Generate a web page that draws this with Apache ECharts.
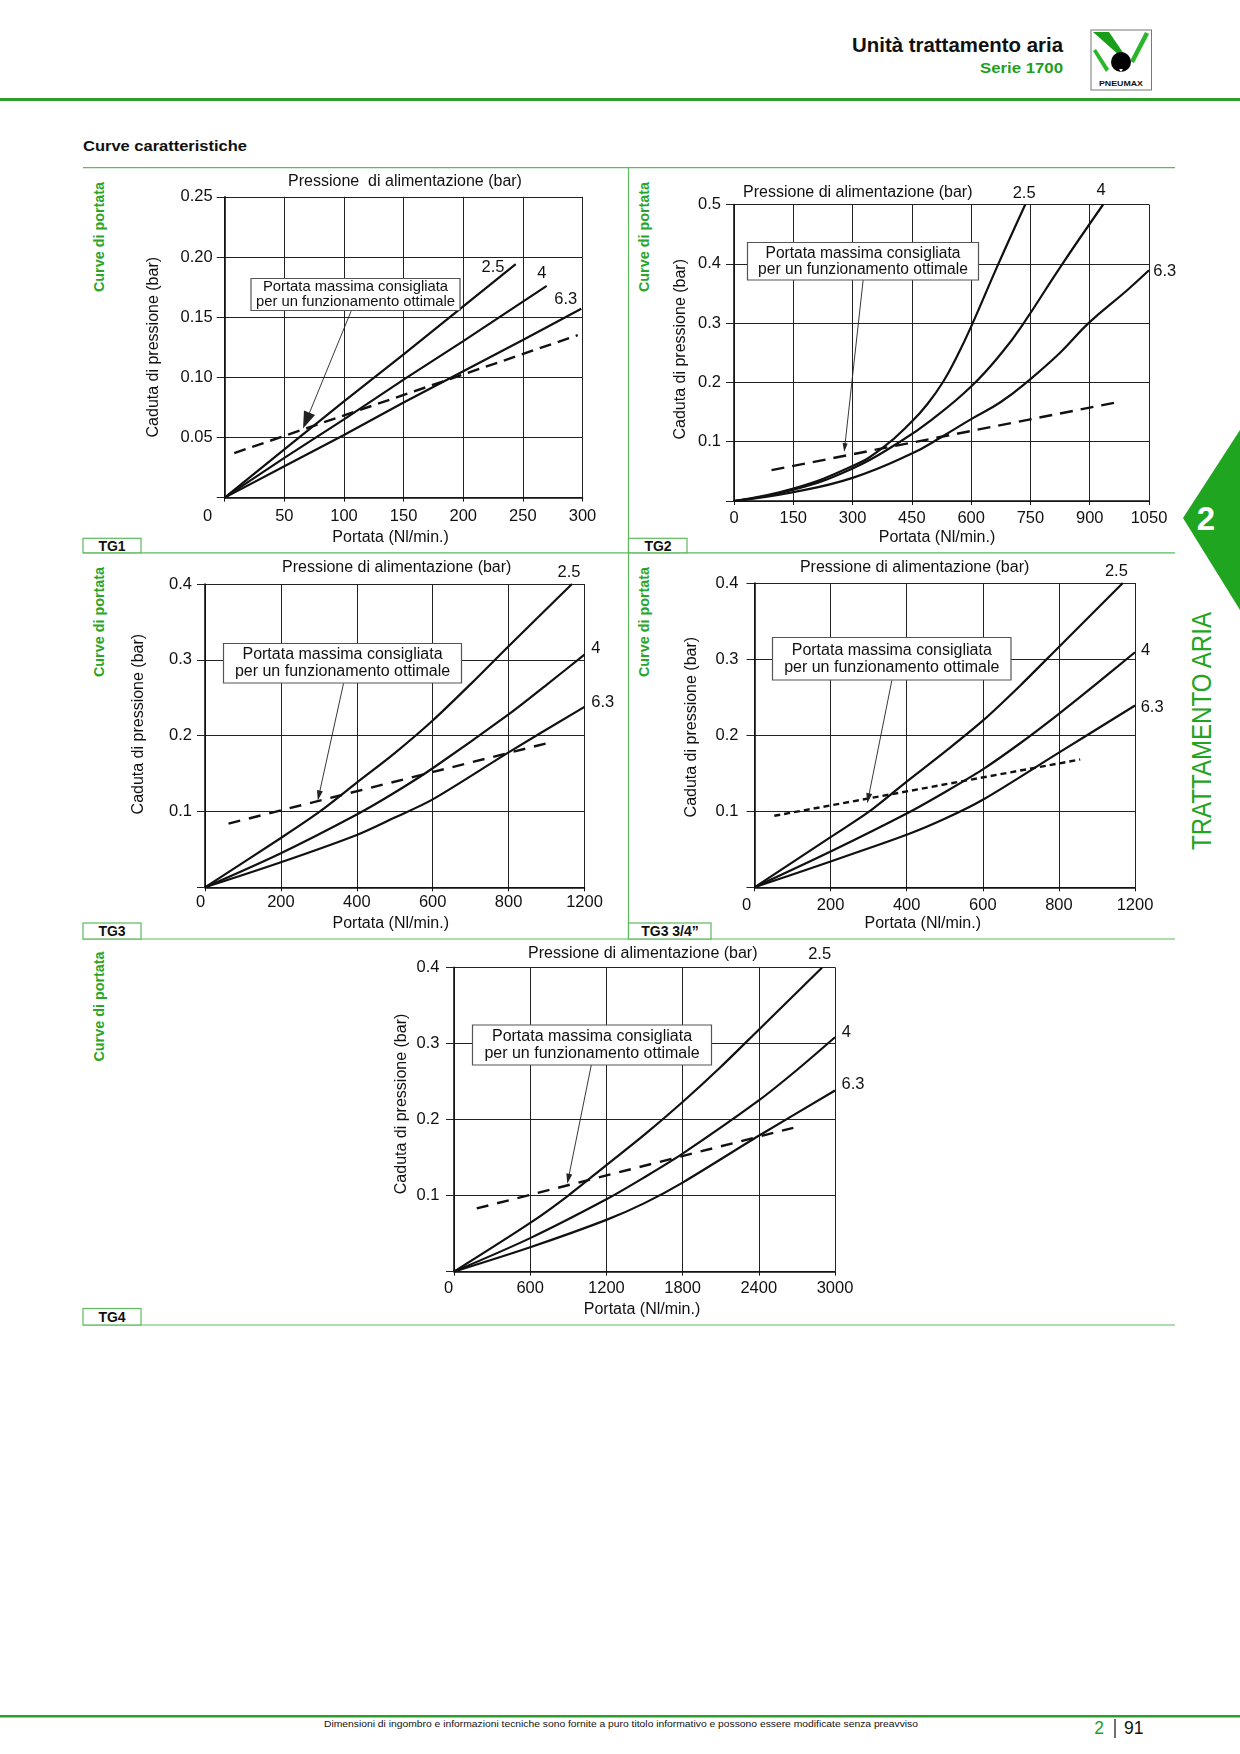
<!DOCTYPE html>
<html lang="it">
<head>
<meta charset="utf-8">
<title>Curve caratteristiche - Serie 1700</title>
<script src="https://cdn.jsdelivr.net/npm/echarts@6.0.0/dist/echarts.min.js"></script>
<style>
  html, body { margin: 0; padding: 0; background: #fff; }
  .page { position: relative; width: 1240px; height: 1754px; overflow: hidden; }
  .page svg, #chart { position: absolute; left: 0; top: 0; }
  #chart { width: 1240px; height: 1754px; }
</style>
</head>
<body>
<div class="page">
<svg width="1240" height="1754" font-family="'Liberation Sans', Arial, sans-serif" fill="#111">
  <!-- intestazione -->
  <rect x="0" y="98" width="1240" height="3" fill="#2a9d2a"/>
  <text x="1063" y="52" text-anchor="end" font-size="20" font-weight="bold" textLength="211" lengthAdjust="spacingAndGlyphs">Unità trattamento aria</text>
  <text x="1063" y="72.5" text-anchor="end" font-size="15.5" font-weight="bold" fill="#1f9e1f" textLength="83" lengthAdjust="spacingAndGlyphs">Serie 1700</text>
  <g transform="translate(1085,25)">
    <rect x="6" y="5" width="60.5" height="60" fill="#fff" stroke="#777" stroke-width="1"/>
    <polygon points="8,7 24,7 39,29 35,31" fill="#1a9e1a"/>
    <polygon points="8,26 11,24 24,44 21,47" fill="#2ab52a"/>
    <polygon points="60,7 64,9 49,38 45,36" fill="#2ab52a"/>
    <circle cx="36" cy="37" r="10" fill="#000"/>
    <path d="M34,44 L38,44 L36,47 Z" fill="#fff"/>
    <text x="36" y="61" text-anchor="middle" font-size="7.5" font-weight="bold" textLength="44" lengthAdjust="spacingAndGlyphs">PNEUMAX</text>
  </g>
  <text x="83" y="151" font-size="15.5" font-weight="bold" textLength="164" lengthAdjust="spacingAndGlyphs">Curve caratteristiche</text>

  <!-- griglia dei riquadri -->
  <g stroke="#5dbb5d" stroke-width="1.2">
    <line x1="83" y1="167.7" x2="1175" y2="167.7"/>
    <line x1="83" y1="552.8" x2="1175" y2="552.8"/>
    <line x1="83" y1="939" x2="1175" y2="939"/>
    <line x1="83" y1="1325" x2="1175" y2="1325"/>
    <line x1="628.5" y1="167.7" x2="628.5" y2="939"/>
  </g>
  <g fill="#fff" stroke="#5dbb5d" stroke-width="1.2">
    <rect x="83" y="538.3" width="58" height="14.5"/>
    <rect x="628.5" y="538.3" width="58.5" height="14.5"/>
    <rect x="83" y="923" width="58" height="16"/>
    <rect x="628.5" y="923" width="82.5" height="16"/>
    <rect x="83" y="1308.5" width="58" height="16.5"/>
  </g>
  <g font-size="14" font-weight="bold" text-anchor="middle" dominant-baseline="central">
    <text x="112" y="546">TG1</text>
    <text x="658" y="546">TG2</text>
    <text x="112" y="931.3">TG3</text>
    <text x="670" y="931.3">TG3 3/4”</text>
    <text x="112" y="1317">TG4</text>
  </g>
  <g font-size="14" font-weight="bold" fill="#2aa52a" text-anchor="middle" dominant-baseline="central">
    <text transform="translate(98.5,237) rotate(-90)" textLength="110" lengthAdjust="spacingAndGlyphs">Curve di portata</text>
    <text transform="translate(644.3,237) rotate(-90)" textLength="110" lengthAdjust="spacingAndGlyphs">Curve di portata</text>
    <text transform="translate(98.5,622) rotate(-90)" textLength="110" lengthAdjust="spacingAndGlyphs">Curve di portata</text>
    <text transform="translate(644.3,622) rotate(-90)" textLength="110" lengthAdjust="spacingAndGlyphs">Curve di portata</text>
    <text transform="translate(98.5,1006.5) rotate(-90)" textLength="110" lengthAdjust="spacingAndGlyphs">Curve di portata</text>
  </g>

  <!-- linguetta laterale -->
  <polygon points="1183,518 1240,430 1240,610" fill="#1fa51f"/>
  <text x="1206" y="518" text-anchor="middle" dominant-baseline="central" font-size="33" font-weight="bold" fill="#fff">2</text>
  <text transform="translate(1201,731) rotate(-90)" text-anchor="middle" dominant-baseline="central" font-size="28" fill="#22a322" textLength="238" lengthAdjust="spacingAndGlyphs">TRATTAMENTO ARIA</text>

  <!-- piè di pagina -->
  <rect x="0" y="1715" width="1240" height="2.5" fill="#2a9d2a"/>
  <text x="324" y="1727" font-size="9" textLength="594" lengthAdjust="spacingAndGlyphs">Dimensioni di ingombro e informazioni tecniche sono fornite a puro titolo informativo e possono essere modificate senza preavviso</text>
  <text x="1099" y="1734" text-anchor="middle" font-size="17.5" fill="#1f9e1f">2</text>
  <line x1="1115" y1="1719" x2="1115" y2="1738" stroke="#111" stroke-width="1.2"/>
  <text x="1124" y="1734" font-size="17.5">91</text>
</svg>
<div id="chart"></div>
</div>
<script>
// pressioni di alimentazione (bar), comuni a tutti i grafici
const pressures = ['2.5', '4', '6.3'];

// TG1
const tg1XTicks = ['0', '50', '100', '150', '200', '250', '300'];
const tg1YTicks = ['', '0.05', '0.10', '0.15', '0.20', '0.25'];
const tg1P25 = [[0, 0], [50, 0.040], [100, 0.080], [150, 0.119], [200, 0.159], [244, 0.194]];
const tg1P4 = [[0, 0], [50, 0.033], [100, 0.065], [150, 0.098], [200, 0.130], [270, 0.176]];
const tg1P63 = [[0, 0], [50, 0.026], [100, 0.052], [150, 0.079], [200, 0.105], [250, 0.131], [299, 0.157]];
const tg1MaxFlow = [[8, 0.037], [296, 0.135]];
const tg1LabelAt = [[225, 0.191], [266, 0.186], [286, 0.165]];
const tg1Arrow = [[106, 0.155], [68.4, 0.064]];

// TG2
const tg2XTicks = ['0', '150', '300', '450', '600', '750', '900', '1050'];
const tg2YTicks = ['', '0.1', '0.2', '0.3', '0.4', '0.5'];
const tg2P25 = [[0, 0], [150, 0.021], [300, 0.059], [375, 0.089], [450, 0.134], [490, 0.164], [530, 0.202], [565, 0.245], [600, 0.294], [665, 0.394], [737, 0.500]];
const tg2P4 = [[0, 0], [150, 0.019], [300, 0.055], [420, 0.100], [500, 0.137], [600, 0.193], [680, 0.252], [733, 0.300], [826, 0.395], [934, 0.500]];
const tg2P63 = [[0, 0], [150, 0.015], [300, 0.039], [450, 0.080], [525, 0.108], [600, 0.138], [675, 0.167], [740, 0.200], [825, 0.250], [897, 0.300], [994, 0.355], [1050, 0.389]];
const tg2MaxFlow = [[95, 0.052], [973, 0.167]];
const tg2LabelAt = [[734, 0.519], [929, 0.523], [1090, 0.387]];
const tg2Arrow = [[327, 0.374], [280, 0.090]];

// TG3 (le etichette dell'asse x sono quelle stampate: 0 ... 800, 1200)
const tg3XTicks = ['0', '200', '400', '600', '800', '1200'];
const tg3YTicks = ['', '0.1', '0.2', '0.3', '0.4'];
const tg3P25 = [[0, 0], [200, 0.065], [303, 0.100], [400, 0.138], [500, 0.177], [600, 0.220], [700, 0.268], [800, 0.318], [967, 0.400]];
const tg3P4 = [[0, 0], [200, 0.045], [400, 0.096], [500, 0.125], [600, 0.157], [800, 0.228], [900, 0.267], [1000, 0.307]];
const tg3P63 = [[0, 0], [200, 0.033], [400, 0.069], [500, 0.092], [600, 0.116], [800, 0.178], [1000, 0.238]];
const tg3MaxFlow = [[62, 0.084], [901, 0.190]];
const tg3LabelAt = [[959, 0.415], [1030, 0.315], [1048, 0.244]];
const tg3Arrow = [[365, 0.269], [300, 0.121]];

// TG3 3/4"
const tg34XTicks = ['0', '200', '400', '600', '800', '1200'];
const tg34YTicks = ['', '0.1', '0.2', '0.3', '0.4'];
const tg34P25 = [[0, 0], [200, 0.066], [300, 0.099], [400, 0.139], [500, 0.178], [600, 0.219], [700, 0.266], [800, 0.316], [968, 0.400]];
const tg34P4 = [[0, 0], [200, 0.047], [400, 0.097], [500, 0.125], [600, 0.155], [700, 0.190], [800, 0.228], [900, 0.268], [1000, 0.309]];
const tg34P63 = [[0, 0], [200, 0.034], [400, 0.069], [500, 0.090], [600, 0.115], [800, 0.177], [1000, 0.239]];
const tg34MaxFlow = [[52, 0.094], [856, 0.168]];
const tg34LabelAt = [[951, 0.415], [1028, 0.311], [1045, 0.237]];
const tg34Arrow = [[361, 0.272], [299, 0.117]];

// TG4
const tg4XTicks = ['0', '600', '1200', '1800', '2400', '3000'];
const tg4YTicks = ['', '0.1', '0.2', '0.3', '0.4'];
const tg4P25 = [[0, 0], [600, 0.064], [900, 0.100], [1200, 0.140], [1500, 0.180], [1800, 0.223], [2100, 0.269], [2400, 0.318], [2895, 0.399]];
const tg4P4 = [[0, 0], [600, 0.044], [1200, 0.095], [1500, 0.124], [1800, 0.155], [2400, 0.225], [2700, 0.265], [3000, 0.308]];
const tg4P63 = [[0, 0], [600, 0.032], [1200, 0.068], [1500, 0.090], [1800, 0.117], [2400, 0.1785], [3000, 0.238]];
const tg4MaxFlow = [[179, 0.083], [2672, 0.189]];
const tg4LabelAt = [[2879, 0.4175], [3090, 0.315], [3142, 0.2455]];
const tg4Arrow = [[1084, 0.274], [900, 0.122]];

const FONT = "'Liberation Sans', Arial, sans-serif";
const INK = '#111';
const NOTE = 'Portata massima consigliata\nper un funzionamento ottimale';
const TICK_FS = 16.5;
const NAME_FS = 16;

const panels = [
  { grid: [224.7, 196.8, 357.8, 300.8], xStep: 50, xTicks: tg1XTicks, yStep: 0.05, yTicks: tg1YTicks,
    curves: [tg1P25, tg1P4, tg1P63], maxFlow: tg1MaxFlow, labelAt: tg1LabelAt, arrow: tg1Arrow,
    smooth: false, dash: [12, 7], arrowSize: [12, 17],
    title: 'Pressione  di alimentazione (bar)', titleAt: [405, 181.7],
    box: [251, 278.5, 209, 32], boxFont: 14.8, boxLine: 15,
    zeroShift: 17, xLabelMargin: 10, yLabelMargin: 12, xNameGap: 32, xNameShift: 13, yNameGap: 63, yNameShift: 0 },
  { grid: [734, 204.5, 415, 296.5], xStep: 150, xTicks: tg2XTicks, yStep: 0.1, yTicks: tg2YTicks,
    curves: [tg2P25, tg2P4, tg2P63], maxFlow: tg2MaxFlow, labelAt: tg2LabelAt, arrow: tg2Arrow,
    smooth: 0.45, dash: [13, 8], arrowSize: [5, 9],
    title: 'Pressione di alimentazione (bar)', titleAt: [857.8, 192.5],
    box: [747.5, 242.5, 231, 37.5], boxFont: 15.6, boxLine: 16,
    zeroShift: 0, xLabelMargin: 8.5, yLabelMargin: 13, xNameGap: 29, xNameShift: 4.5, yNameGap: 45.5, yNameShift: 3.5 },
  { grid: [205, 584, 379.5, 303.3], xStep: 200, xTicks: tg3XTicks, yStep: 0.1, yTicks: tg3YTicks,
    curves: [tg3P25, tg3P4, tg3P63], maxFlow: tg3MaxFlow, labelAt: tg3LabelAt, arrow: tg3Arrow,
    smooth: 0.3, dash: [12, 9], arrowSize: [6, 10],
    title: 'Pressione di alimentazione (bar)', titleAt: [396.7, 567.5],
    box: [223.5, 643.5, 238, 39.5], boxFont: 16, boxLine: 16.8,
    zeroShift: 4.5, xLabelMargin: 7, yLabelMargin: 13, xNameGap: 28, xNameShift: 4, yNameGap: 58, yNameShift: 11.5 },
  { grid: [754.5, 583, 380.5, 304.3], xStep: 200, xTicks: tg34XTicks, yStep: 0.1, yTicks: tg34YTicks,
    curves: [tg34P25, tg34P4, tg34P63], maxFlow: tg34MaxFlow, labelAt: tg34LabelAt, arrow: tg34Arrow,
    smooth: 0.3, dash: [6, 4], arrowSize: [6, 10],
    title: 'Pressione di alimentazione (bar)', titleAt: [914.6, 567.5],
    box: [772.5, 637.5, 238.5, 42.5], boxFont: 16, boxLine: 16.8,
    zeroShift: 8, xLabelMargin: 10, yLabelMargin: 16, xNameGap: 28, xNameShift: 22, yNameGap: 55, yNameShift: 8 },
  { grid: [454, 967.3, 381, 304.3], xStep: 600, xTicks: tg4XTicks, yStep: 0.1, yTicks: tg4YTicks,
    curves: [tg4P25, tg4P4, tg4P63], maxFlow: tg4MaxFlow, labelAt: tg4LabelAt, arrow: tg4Arrow,
    smooth: 0.3, dash: [12, 9], arrowSize: [6, 10],
    title: 'Pressione di alimentazione (bar)', titleAt: [642.8, 953.8],
    box: [472.5, 1025, 239, 40], boxFont: 16, boxLine: 16.8,
    zeroShift: 5.5, xLabelMargin: 8, yLabelMargin: 14.5, xNameGap: 30, xNameShift: 2.5, yNameGap: 44.5, yNameShift: 15.5 }
];

const grids = [], xAxes = [], yAxes = [], series = [], graphic = [];

panels.forEach((p, i) => {
  grids.push({ left: p.grid[0], top: p.grid[1], width: p.grid[2], height: p.grid[3],
    containLabel: false, outerBoundsMode: 'none', show: false });

  xAxes.push({
    type: 'value', gridIndex: i, min: 0, max: p.xStep * (p.xTicks.length - 1), interval: p.xStep,
    name: 'Portata (Nl/min.)', nameLocation: 'middle', nameGap: p.xNameGap, nameMoveOverlap: false,
    nameTextStyle: { fontSize: NAME_FS, color: INK, fontFamily: FONT, padding: [0, 2 * p.xNameShift, 0, 0] },
    axisLine: { show: true, onZero: false, lineStyle: { color: INK, width: 1.6 } },
    axisTick: { show: true, length: 4, lineStyle: { color: INK, width: 1 } },
    splitLine: { show: true, lineStyle: { color: '#222', width: 1 } },
    axisLabel: {
      margin: p.xLabelMargin, fontSize: TICK_FS, color: INK, fontFamily: FONT,
      formatter: v => {
        const k = Math.round(v / p.xStep);
        return k === 0 ? '{z|' + p.xTicks[0] + '}' : p.xTicks[k];
      },
      rich: { z: { fontSize: TICK_FS, color: INK, fontFamily: FONT, padding: [0, 2 * p.zeroShift, 0, 0] } }
    }
  });

  yAxes.push({
    type: 'value', gridIndex: i, min: 0, max: p.yStep * (p.yTicks.length - 1), interval: p.yStep,
    name: 'Caduta di pressione (bar)', nameLocation: 'middle', nameGap: p.yNameGap, nameMoveOverlap: false,
    nameTextStyle: { fontSize: NAME_FS, color: INK, fontFamily: FONT, padding: [0, 0, 0, 2 * p.yNameShift] },
    axisLine: { show: true, onZero: false, lineStyle: { color: INK, width: 1.6 } },
    axisTick: { show: true, length: 8, lineStyle: { color: '#222', width: 1 } },
    splitLine: { show: true, lineStyle: { color: '#222', width: 1 } },
    axisLabel: {
      margin: p.yLabelMargin, fontSize: TICK_FS, color: INK, fontFamily: FONT,
      formatter: v => p.yTicks[Math.round(v / p.yStep)] || ''
    }
  });

  p.curves.forEach(c => {
    series.push({
      type: 'line', xAxisIndex: i, yAxisIndex: i, data: c, showSymbol: false, silent: true,
      smooth: p.smooth,
      lineStyle: { color: INK, width: 2.2 }, z: 3
    });
  });

  series.push({
    type: 'line', xAxisIndex: i, yAxisIndex: i, data: p.maxFlow, showSymbol: false, silent: true,
    lineStyle: { color: INK, width: 2.4, type: p.dash, cap: 'butt' }, z: 3,
    markLine: {
      silent: true, animation: false, symbol: ['none', 'triangle'], symbolSize: p.arrowSize,
      label: { show: false },
      lineStyle: { color: '#222', width: 0.9, type: 'solid' },
      data: [[{ coord: p.arrow[0] }, { coord: p.arrow[1] }]]
    }
  });

  graphic.push({
    type: 'text', x: p.titleAt[0], y: p.titleAt[1], z: 100,
    style: { text: p.title, fontSize: NAME_FS, fontFamily: FONT, fill: INK, align: 'center', verticalAlign: 'middle' }
  });
  graphic.push({
    type: 'rect', z: 100,
    shape: { x: p.box[0], y: p.box[1], width: p.box[2], height: p.box[3] },
    style: { fill: '#fff', stroke: '#555', lineWidth: 1.2 }
  });
  graphic.push({
    type: 'text', z: 101, x: p.box[0] + p.box[2] / 2, y: p.box[1] + p.box[3] / 2,
    style: { text: NOTE, fontSize: p.boxFont, lineHeight: p.boxLine, fontFamily: FONT, fill: INK,
      align: 'center', verticalAlign: 'middle' }
  });
});

const chart = echarts.init(document.getElementById('chart'), null, { renderer: 'canvas' });
chart.setOption({
  animation: false,
  textStyle: { fontFamily: FONT },
  grid: grids,
  xAxis: xAxes,
  yAxis: yAxes,
  series: series
});

// etichette delle pressioni, posizionate tramite le scale degli assi
panels.forEach((p, i) => {
  p.labelAt.forEach((c, k) => {
    const pt = chart.convertToPixel({ gridIndex: i }, c);
    graphic.push({
      type: 'text', x: pt[0], y: pt[1], z: 100,
      style: { text: pressures[k], fontSize: TICK_FS, fontFamily: FONT, fill: INK, align: 'center', verticalAlign: 'middle' }
    });
  });
});
chart.setOption({ graphic: graphic });
</script>
</body>
</html>
